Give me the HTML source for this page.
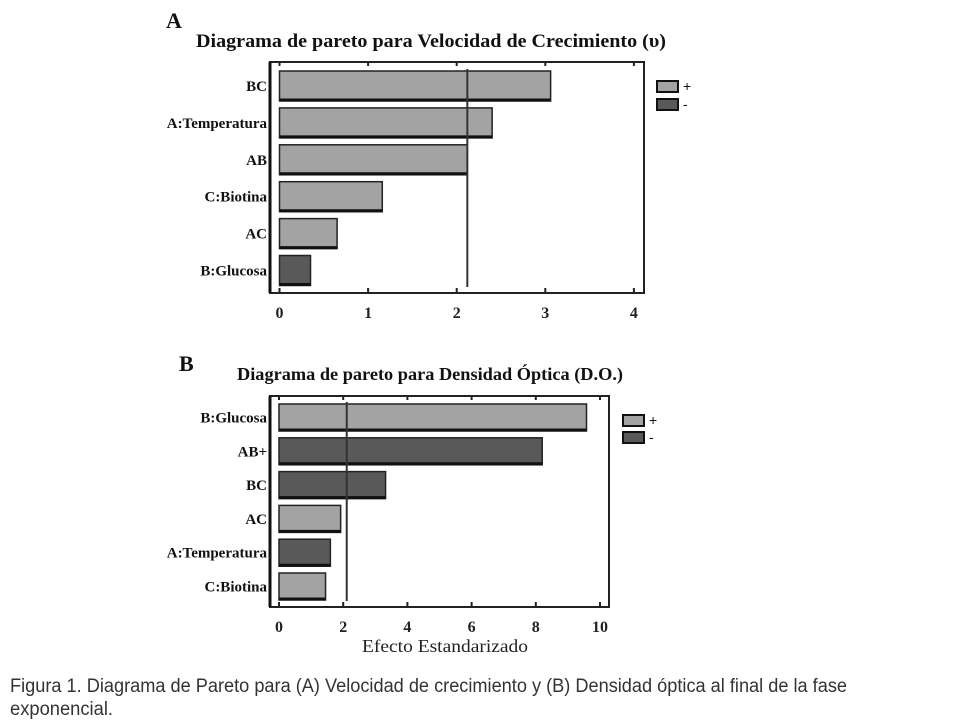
<!DOCTYPE html>
<html><head><meta charset="utf-8"><style>
html,body{margin:0;padding:0;background:#fff;}
svg{display:block;}
</style></head><body>
<svg id="fig" width="960" height="720" viewBox="0 0 960 720" xmlns="http://www.w3.org/2000/svg">
<g font-family="Liberation Serif, serif" font-weight="bold" fill="#111">
<text x="166" y="28" font-size="22">A</text>
<text x="196" y="47" font-size="19" textLength="470" lengthAdjust="spacingAndGlyphs">Diagrama de pareto para Velocidad de Crecimiento (υ)</text>
<text x="179" y="371" font-size="22">B</text>
<text x="237" y="380" font-size="18" textLength="386" lengthAdjust="spacingAndGlyphs">Diagrama de pareto para Densidad Óptica (D.O.)</text>
</g>
<g id="chartA"></g>
<g id="chartB"></g>
<text x="362" y="652" font-family="Liberation Serif, serif" font-size="18" fill="#222" textLength="166" lengthAdjust="spacingAndGlyphs">Efecto Estandarizado</text>
<g font-family="Liberation Sans, sans-serif" font-size="19" fill="#333">
<text x="10" y="692" textLength="837" lengthAdjust="spacingAndGlyphs">Figura 1. Diagrama de Pareto para (A) Velocidad de crecimiento y (B) Densidad óptica al final de la fase</text>
<text x="10" y="715" textLength="103" lengthAdjust="spacingAndGlyphs">exponencial.</text>
</g>
</svg>
<script>
// Chart A data
const catsA = ["BC","A:Temperatura","AB","C:Biotina","AC","B:Glucosa"];
const valsA = [3.06,2.40,2.12,1.16,0.65,0.35];
const signA = ["+","+","+","+","+","-"];
const ticksA = [0,1,2,3,4];
const refA = 2.12;
// Chart B data
const catsB = ["B:Glucosa","AB+","BC","AC","A:Temperatura","C:Biotina"];
const valsB = [9.58,8.2,3.32,1.92,1.6,1.45];
const signB = ["+","-","-","+","-","+"];
const ticksB = [0,2,4,6,8,10];
const refB = 2.11;

const NS="http://www.w3.org/2000/svg";
function mk(tag,attrs,parent){const e=document.createElementNS(NS,tag);for(const k in attrs)e.setAttribute(k,attrs[k]);parent.appendChild(e);return e;}

function draw(g,cfg,cats,vals,signs,ticks,ref,pre){
  const sx=v=>cfg.x0+v*cfg.unit;
  const frame=mk('rect',{x:cfg.fl,y:cfg.ft,width:cfg.fr-cfg.fl,height:cfg.fb-cfg.ft,fill:'none',stroke:'#222','stroke-width':2},g);
  
  
  const ax=mk('line',{x1:cfg.fl,x2:cfg.fl,y1:cfg.ft,y2:cfg.fb,stroke:'#111','stroke-width':3},g);
  
  
  ticks.forEach(t=>{
    const tk=mk('line',{x1:sx(t),x2:sx(t),y1:cfg.fb,y2:cfg.fb-5,stroke:'#222','stroke-width':2},g);
    
    
    const tk2=mk('line',{x1:sx(t),x2:sx(t),y1:cfg.ft,y2:cfg.ft+4,stroke:'#222','stroke-width':2},g);
    
    
    const tl=mk('text',{x:sx(t),y:cfg.fb+25,'text-anchor':'middle','font-family':'Liberation Serif, serif','font-weight':'bold','font-size':16,fill:'#222'},g);
    tl.textContent=t;
    
    
  });
  cats.forEach((c,i)=>{
    const y=cfg.by0+i*cfg.step, h=cfg.bh, w=vals[i]*cfg.unit;
    const col=signs[i]==='+'?'#a3a3a3':'#595959';
    const b=mk('rect',{x:cfg.x0,y:y,width:w,height:h,fill:col,stroke:'#222','stroke-width':1.5},g);
    
    
    const bb=mk('line',{x1:cfg.x0,x2:cfg.x0+w,y1:y+h-1,y2:y+h-1,stroke:'#111','stroke-width':3},g);
    
    
    const lb=mk('text',{x:cfg.fl-3,y:y+h/2+5,'text-anchor':'end','font-family':'Liberation Serif, serif','font-weight':'bold','font-size':15,fill:'#111'},g);
    lb.textContent=c;
    
    
  });
  const rl=mk('line',{x1:sx(ref),x2:sx(ref),y1:cfg.by0-2,y2:cfg.fb-6,stroke:'#333','stroke-width':2},g);
  
  
  [['+','#a3a3a3'],['-','#595959']].forEach((l,i)=>{
    const y=cfg.ly+i*cfg.lstep;
    const r=mk('rect',{x:cfg.lx,y:y,width:21,height:11,fill:l[1],stroke:'#111','stroke-width':2},g);
    
    
    const t=mk('text',{x:cfg.lx+26,y:y+10,'font-family':'Liberation Sans, sans-serif','font-size':14,fill:'#111'},g);
    t.textContent=l[0];
    
    
  });
}
draw(document.getElementById('chartA'),{fl:270,fr:644,ft:62,fb:293,x0:279.5,unit:88.6,by0:71,step:36.9,bh:30,lx:657,ly:81,lstep:18},catsA,valsA,signA,ticksA,refA,'a-');
draw(document.getElementById('chartB'),{fl:270,fr:609,ft:396,fb:607,x0:279,unit:32.1,by0:404,step:33.8,bh:27,lx:623,ly:415,lstep:17},catsB,valsB,signB,ticksB,refB,'b-');
</script>
</body></html>
